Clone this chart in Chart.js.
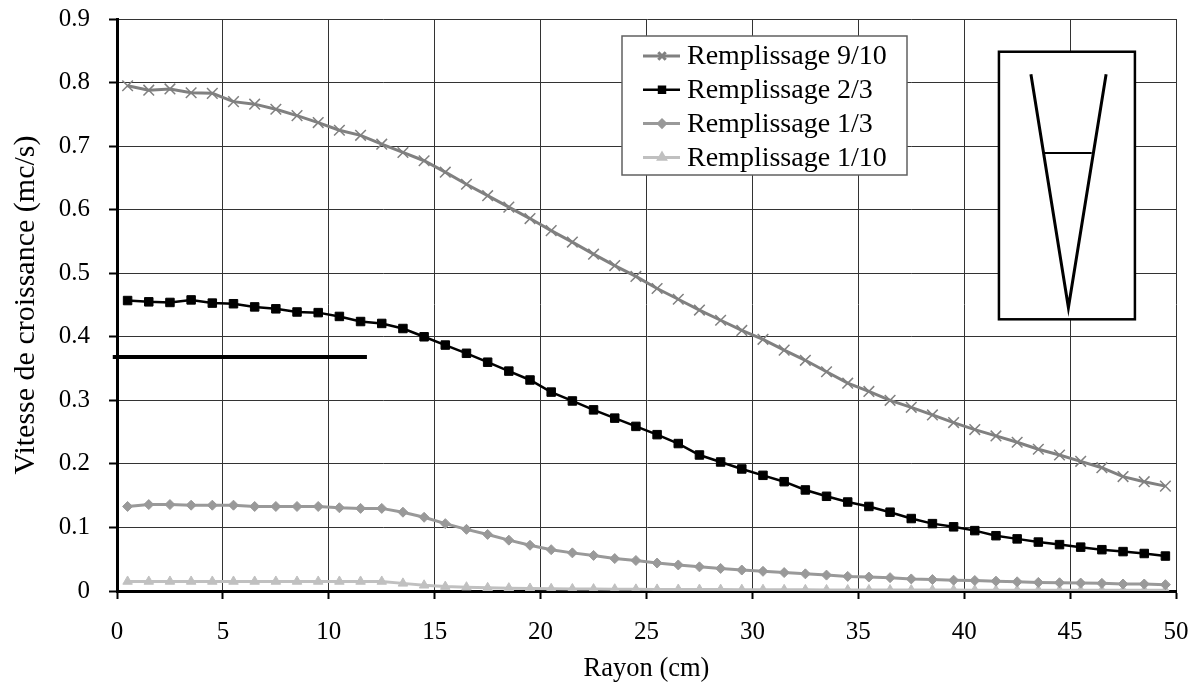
<!DOCTYPE html>
<html>
<head>
<meta charset="utf-8">
<script src="https://cdn.jsdelivr.net/npm/chart.js"></script>
<style>
  html, body { margin: 0; padding: 0; background: #fff; }
  #wrap { width: 1200px; height: 691px; }
</style>
</head>
<body>
<div id="wrap"><canvas id="myChart" width="1200" height="691"></canvas></div>
<script>
// rayon (cm) des points mesures
const rayon = [0.5, 1.5, 2.5, 3.5, 4.5, 5.5, 6.5, 7.5, 8.5, 9.5,
  10.5, 11.5, 12.5, 13.5, 14.5, 15.5, 16.5, 17.5, 18.5, 19.5,
  20.5, 21.5, 22.5, 23.5, 24.5, 25.5, 26.5, 27.5, 28.5, 29.5,
  30.5, 31.5, 32.5, 33.5, 34.5, 35.5, 36.5, 37.5, 38.5, 39.5,
  40.5, 41.5, 42.5, 43.5, 44.5, 45.5, 46.5, 47.5, 48.5, 49.5];

const rempl910 = [0.795, 0.788, 0.790, 0.784, 0.783, 0.770, 0.766, 0.758, 0.748, 0.737,
  0.725, 0.717, 0.703, 0.690, 0.677, 0.659, 0.640, 0.622, 0.604, 0.586,
  0.567, 0.549, 0.530, 0.512, 0.495, 0.476, 0.459, 0.442, 0.426, 0.410,
  0.396, 0.379, 0.363, 0.345, 0.327, 0.314, 0.300, 0.289, 0.277, 0.265,
  0.254, 0.244, 0.234, 0.223, 0.214, 0.204, 0.194, 0.180, 0.172, 0.165];

const rempl23 = [0.457, 0.455, 0.454, 0.458, 0.453, 0.452, 0.447, 0.444, 0.439, 0.438,
  0.432, 0.424, 0.421, 0.413, 0.400, 0.387, 0.374, 0.360, 0.346, 0.332,
  0.313, 0.299, 0.285, 0.272, 0.259, 0.246, 0.232, 0.214, 0.203, 0.192,
  0.182, 0.172, 0.159, 0.149, 0.140, 0.133, 0.124, 0.114, 0.106, 0.101,
  0.095, 0.087, 0.082, 0.077, 0.073, 0.069, 0.065, 0.062, 0.059, 0.055];

const rempl13 = [0.133, 0.136, 0.136, 0.135, 0.135, 0.135, 0.133, 0.133, 0.133, 0.133,
  0.131, 0.130, 0.130, 0.124, 0.116, 0.106, 0.097, 0.089, 0.080, 0.072,
  0.065, 0.060, 0.056, 0.051, 0.048, 0.044, 0.041, 0.038, 0.0355, 0.033,
  0.031, 0.029, 0.027, 0.025, 0.023, 0.022, 0.021, 0.019, 0.018, 0.017,
  0.0165, 0.0155, 0.0145, 0.0135, 0.013, 0.0125, 0.012, 0.011, 0.011, 0.010];

const rempl110 = [0.015, 0.015, 0.015, 0.015, 0.015, 0.015, 0.015, 0.015, 0.015, 0.015,
  0.015, 0.015, 0.015, 0.012, 0.009, 0.007, 0.006, 0.005, 0.0045, 0.004,
  0.0035, 0.0032, 0.003, 0.0028, 0.0026, 0.0025, 0.0024, 0.0023, 0.0022, 0.0021,
  0.002, 0.0019, 0.0018, 0.0017, 0.0016, 0.0016, 0.0015, 0.0015, 0.0014, 0.0014,
  0.0013, 0.0013, 0.0012, 0.0012, 0.0011, 0.0011, 0.001, 0.001, 0.001, 0.001];

// trait horizontal noir (seuil)
const seuilX = [-0.2, 11.8];
const seuilY = [0.368, 0.368];

const seriesLabels = ['Remplissage 9/10', 'Remplissage 2/3', 'Remplissage 1/3', 'Remplissage 1/10'];
const xTicks = [0, 5, 10, 15, 20, 25, 30, 35, 40, 45, 50];
const yTicks = [0, 0.1, 0.2, 0.3, 0.4, 0.5, 0.6, 0.7, 0.8, 0.9];

// schema du cone (en unites des axes)
const coneBox = { x0: 41.64, x1: 48.06, y0: 0.4275, y1: 0.8485 };
const coneV = [[43.15, 0.813], [44.92, 0.446], [46.7, 0.813]];
const coneLevel = [[43.78, 0.689], [46.02, 0.689]];

const FONT = "'Liberation Serif', 'Times New Roman', serif";

function pts(ys) {
    return ys.map((y, i) => ({ x: rayon[i], y: y }));
}

const conePlugin = {
    id: 'cone',
    beforeDatasetsDraw(chart) {
        const { ctx, scales: { x, y } } = chart;
        ctx.save();
        const l = x.getPixelForValue(coneBox.x0), r = x.getPixelForValue(coneBox.x1);
        const t = y.getPixelForValue(coneBox.y1), b = y.getPixelForValue(coneBox.y0);
        ctx.fillStyle = '#fff';
        ctx.fillRect(l, t, r - l, b - t);
        ctx.strokeStyle = '#000';
        ctx.lineWidth = 2.5;
        ctx.strokeRect(l, t, r - l, b - t);
        ctx.lineWidth = 3;
        ctx.beginPath();
        coneV.forEach((p, i) => {
            const px = x.getPixelForValue(p[0]), py = y.getPixelForValue(p[1]);
            if (i === 0) ctx.moveTo(px, py); else ctx.lineTo(px, py);
        });
        ctx.stroke();
        ctx.lineWidth = 2;
        ctx.beginPath();
        ctx.moveTo(x.getPixelForValue(coneLevel[0][0]), y.getPixelForValue(coneLevel[0][1]));
        ctx.lineTo(x.getPixelForValue(coneLevel[1][0]), y.getPixelForValue(coneLevel[1][1]));
        ctx.stroke();
        ctx.restore();
    }
};

const legendPlugin = {
    id: 'boxLegend',
    afterDraw(chart) {
        const ctx = chart.ctx;
        const left = 622, top = 36, w = 285, h = 139;
        ctx.save();
        ctx.fillStyle = '#fff';
        ctx.fillRect(left, top, w, h);
        ctx.strokeStyle = '#606060';
        ctx.lineWidth = 1.5;
        ctx.strokeRect(left, top, w, h);
        ctx.font = '28px ' + FONT;
        ctx.textBaseline = 'middle';
        chart.data.datasets.slice(0, 4).forEach((ds, i) => {
            const cy = top + 20 + i * 33.8;
            ctx.strokeStyle = ds.borderColor;
            ctx.lineWidth = ds.borderWidth;
            ctx.beginPath();
            ctx.moveTo(643, cy);
            ctx.lineTo(680, cy);
            ctx.stroke();
            ctx.fillStyle = ds.pointBackgroundColor;
            ctx.strokeStyle = ds.pointBorderColor;
            Chart.helpers.drawPoint(ctx, {
                pointStyle: ds.pointStyle,
                radius: ds.pointRadius * 0.7,
                borderWidth: ds.pointBorderWidth
            }, 662, cy);
            ctx.fillStyle = '#000';
            ctx.fillText(ds.label, 687, cy + 1);
        });
        ctx.restore();
    }
};

const ctx = document.getElementById('myChart').getContext('2d');
new Chart(ctx, {
    type: 'line',
    data: {
        datasets: [
            {
                label: seriesLabels[0], data: pts(rempl910),
                borderColor: '#808080', backgroundColor: '#808080', borderWidth: 3,
                pointStyle: 'crossRot', pointRadius: 7.5, pointBorderWidth: 1.5,
                pointBorderColor: '#808080', pointBackgroundColor: '#808080'
            },
            {
                label: seriesLabels[1], data: pts(rempl23),
                borderColor: '#000', backgroundColor: '#000', borderWidth: 2.5,
                pointStyle: 'rect', pointRadius: 6, pointBorderWidth: 1,
                pointBorderColor: '#000', pointBackgroundColor: '#000'
            },
            {
                label: seriesLabels[2], data: pts(rempl13),
                borderColor: '#999999', backgroundColor: '#999999', borderWidth: 3,
                pointStyle: 'rectRot', pointRadius: 5, pointBorderWidth: 1,
                pointBorderColor: '#999999', pointBackgroundColor: '#999999'
            },
            {
                label: seriesLabels[3], data: pts(rempl110),
                borderColor: '#c0c0c0', backgroundColor: '#c0c0c0', borderWidth: 3,
                pointStyle: 'triangle', pointRadius: 5.5, pointBorderWidth: 1,
                pointBorderColor: '#c0c0c0', pointBackgroundColor: '#c0c0c0'
            },
            {
                label: 'seuil', data: seuilX.map((v, i) => ({ x: v, y: seuilY[i] })),
                borderColor: '#000', borderWidth: 4, pointRadius: 0, clip: false
            }
        ]
    },
    options: {
        responsive: false,
        animation: false,
        maintainAspectRatio: false,
        layout: { padding: { left: 0, right: 24, top: 19, bottom: 0 } },
        elements: { line: { tension: 0 } },
        plugins: {
            legend: { display: false },
            title: { display: false },
            tooltip: { enabled: false }
        },
        scales: {
            x: {
                type: 'linear', min: 0, max: 50,
                afterBuildTicks: (s) => { s.ticks = xTicks.map(v => ({ value: v })); },
                afterFit: (s) => { s.height = 100; s.paddingLeft = 0; s.paddingRight = 0; },
                grid: { color: '#333', lineWidth: 1, tickColor: '#000', tickWidth: 2, tickLength: 8 },
                border: { color: '#000', width: 3 },
                ticks: { color: '#000', font: { family: FONT, size: 25 }, padding: 18, maxRotation: 0 },
                title: { display: true, text: 'Rayon (cm)', color: '#000', font: { family: FONT, size: 26.5 }, padding: { top: 0, bottom: 6 } }
            },
            y: {
                min: 0, max: 0.9,
                afterBuildTicks: (s) => { s.ticks = yTicks.map(v => ({ value: v })); },
                afterFit: (s) => { s.width = 117; s.paddingTop = 0; s.paddingBottom = 0; },
                grid: { color: '#333', lineWidth: 1, tickColor: '#000', tickWidth: 2, tickLength: 8 },
                border: { color: '#000', width: 3 },
                ticks: { color: '#000', font: { family: FONT, size: 25 }, padding: 19, callback: (v) => v === 0 ? '0' : v.toFixed(1) },
                title: { display: true, text: 'Vitesse de croissance (mc/s)', color: '#000', font: { family: FONT, size: 30 }, padding: { top: 8, bottom: 0 } }
            }
        }
    },
    plugins: [conePlugin, legendPlugin]
});
</script>
</body>
</html>
